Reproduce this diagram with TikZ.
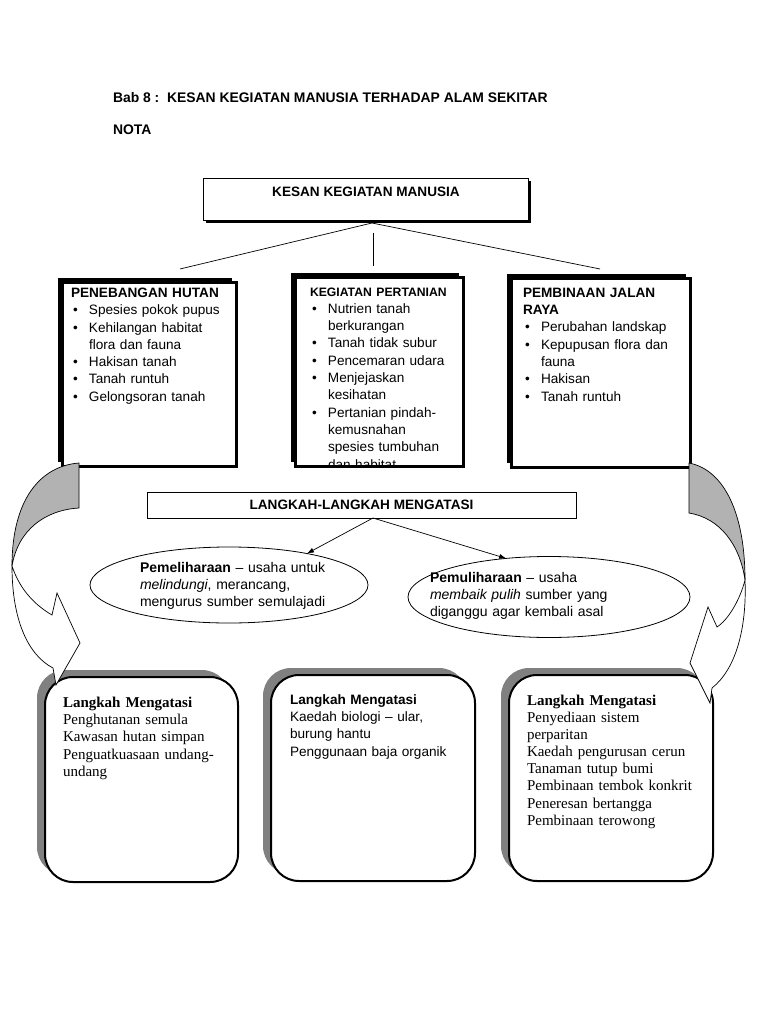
\documentclass[tikz,border=0pt]{standalone}
\usepackage{fontspec}
\setmainfont{Liberation Sans}
\newfontfamily\tnr{Liberation Serif}
\usetikzlibrary{shapes.geometric,arrows.meta,shadows}
\setlength\parindent{0pt}
\newcommand{\bul}{\par\hangindent=18pt\hangafter=1\makebox[18pt][l]{\hspace{2pt}\textbullet}}

\begin{document}
\begin{tikzpicture}[x=1pt,y=-1pt]
\tikzset{every node/.style={inner sep=0pt,outer sep=0pt},
         txt/.style={anchor=north west,align=left,font=\fontsize{13.6}{17.3}\selectfont},
         kbox/.style={draw,line width=3pt,fill=white,
           general shadow={fill=black,shadow xshift=-4.5pt,shadow yshift=4.5pt}},
         rbox/.style={draw,line width=2pt,fill=white,rounded corners=28pt,
           general shadow={fill=black!50,shadow xshift=-8pt,shadow yshift=7pt}},
         oval/.style={draw,ellipse,line width=.8pt},
         link/.style={line width=.7pt},
         arr/.style={line width=.7pt,-{Latex[length=7pt,width=5pt]}},
         curl/.style={line width=.7pt}}
\path[use as bounding box,fill=white] (0,0) rectangle (768,1024);

% heading
\node[txt,font=\bfseries\fontsize{13.9}{16}\selectfont] (bab) at (113,92) {Bab 8 :\ \ KESAN KEGIATAN MANUSIA TERHADAP ALAM SEKITAR};
\node[txt,font=\bfseries\fontsize{13.9}{16}\selectfont] (nota) at (113,125) {NOTA};

% main box
\node[draw,line width=.8pt,fill=white,minimum width=325pt,minimum height=42pt,
      general shadow={fill=black,shadow xshift=3pt,shadow yshift=-3pt}] (kesan) at (365.5,199) {};
\node[font=\bfseries\fontsize{13.6}{16}\selectfont] (kesantxt) at (366,192) {KESAN KEGIATAN MANUSIA};
\coordinate (hl) at (180,269);
\coordinate (hr) at (600,269);
\draw[link] ([xshift=6.5pt,yshift=-3pt]kesan.south) -- (hl);
\draw[link] ([xshift=6.5pt,yshift=-3pt]kesan.south) -- (hr);

% three activities
\node[kbox,minimum width=174pt,minimum height=184pt] (hutan) at (149,374) {};
\node[kbox,minimum width=167.5pt,minimum height=189.5pt] (pertanian) at (379.25,371.75) {};
\node[kbox,minimum width=179pt,minimum height=189pt] (jalan) at (600.5,372.5) {};
\draw[link,shorten >=11pt] ([xshift=7.5pt,yshift=-13pt]kesan.south) -- ([xshift=-6.25pt]pertanian.north);

\node[txt,text width=160pt] (hutantxt) at (71,288) {\textbf{PENEBANGAN HUTAN}
  \bul Spesies pokok pupus
  \bul Kehilangan habitat\newline flora dan fauna
  \bul Hakisan tanah
  \bul Tanah runtuh
  \bul Gelongsoran tanah\par};
\begin{scope}
  \clip ([shift={(1.5pt,-1.5pt)}]pertanian.north west) rectangle ([shift={(-1.5pt,1.5pt)}]pertanian.south east);
  \node[txt,text width=148pt] (pertaniantxt) at (310,287.5) {{\fontsize{12.2}{17.3}\selectfont\textbf{KEGIATAN PERTANIAN}}
    \bul Nutrien tanah\newline berkurangan
    \bul Tanah tidak subur
    \bul Pencemaran udara
    \bul Menjejaskan\newline kesihatan
    \bul Pertanian pindah-\newline kemusnahan\newline spesies tumbuhan\newline dan habitat\par};
\end{scope}
\node[txt,text width=160pt] (jalantxt) at (523,288) {\textbf{PEMBINAAN JALAN}\newline\textbf{RAYA}
  \bul Perubahan landskap
  \bul Kepupusan flora dan\newline fauna
  \bul Hakisan
  \bul Tanah runtuh\par};

% langkah-langkah
\node[draw,line width=.8pt,fill=white,minimum width=429pt,minimum height=26pt,
      font=\bfseries\fontsize{13.6}{15}\selectfont] (langkah) at (361.5,505) {LANGKAH-LANGKAH MENGATASI};
\node[oval,minimum width=278pt,minimum height=76pt] (pml) at (229,585) {};
\node[oval,minimum width=282pt,minimum height=81pt] (pmu) at (549,597) {};
\coordinate (lfork) at ([xshift=11.5pt]langkah.south);
\draw[arr] (lfork) -- (pml.22);
\draw[arr] (lfork) -- (pmu.138);
\node[txt,font=\fontsize{14}{17}\selectfont,text width=200pt] (pmltxt) at (140,562)
  {\textbf{Pemeliharaan} – usaha untuk\newline\textit{melindungi}, merancang,\newline mengurus sumber semulajadi};
\node[txt,font=\fontsize{14}{17}\selectfont,text width=220pt] (pmutxt) at (430,572)
  {\textbf{Pemuliharaan} – usaha\newline\textit{membaik pulih} sumber yang\newline diganggu agar kembali asal};

% langkah mengatasi boxes
\node[rbox,minimum width=193pt,minimum height=205pt] (cara1) at (141.5,779.5) {};
\node[rbox,minimum width=204pt,minimum height=206pt] (cara2) at (373,778) {};
\node[rbox,minimum width=204pt,minimum height=206pt] (cara3) at (611,778) {};
\node[txt,font=\tnr\fontsize{15}{17.2}\selectfont,text width=175pt] (cara1txt) at (63,697)
  {\textbf{Langkah Mengatasi}\newline Penghutanan semula\newline Kawasan hutan simpan\newline Penguatkuasaan undang-\newline undang};
\node[txt,text width=180pt] (cara2txt) at (290,694.5)
  {\textbf{Langkah Mengatasi}\newline Kaedah biologi – ular,\newline burung hantu\newline Penggunaan baja organik};
\node[txt,font=\tnr\fontsize{15}{17.1}\selectfont,text width=182pt] (cara3txt) at (527,695)
  {\textbf{Langkah Mengatasi}\newline Penyediaan sistem\newline perparitan\newline Kaedah pengurusan cerun\newline
   Tanaman tutup bumi\newline Pembinaan tembok konkrit\newline Peneresan bertangga\newline Pembinaan terowong};

% curved arrows
\filldraw[curl,fill=black!30] (79,463) .. controls (40,466) and (12,500) .. (12,566)
  .. controls (18,530) and (45,510) .. (79,508) -- cycle;
\filldraw[curl,fill=white] (12,566) .. controls (12,620) and (28,655) .. (53,668) -- (56,685) -- (80,643)
  -- (57,593) -- (52,615) .. controls (35,605) and (20,590) .. (12,566) -- cycle;
\filldraw[curl,fill=black!30] (689,463) .. controls (725,470) and (745,515) .. (745,580)
  .. controls (740,545) and (720,518) .. (689,513) -- cycle;
\filldraw[curl,fill=white] (745,580) .. controls (747,630) and (735,670) .. (712,688) -- (710,703) -- (690,663)
  -- (708,607) -- (717,627) .. controls (728,620) and (740,600) .. (745,580) -- cycle;
\end{tikzpicture}
\end{document}
